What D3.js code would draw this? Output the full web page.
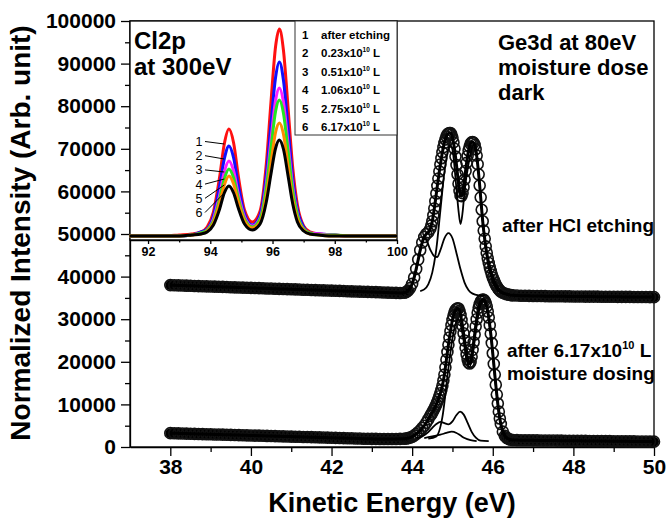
<!DOCTYPE html>
<html lang="en">
<head>
<meta charset="UTF-8">
<title>Ge3d at 80eV - moisture dose</title>
<script src="https://cdnjs.cloudflare.com/ajax/libs/d3/7.8.5/d3.min.js"></script>
<style>
  body { margin: 0; background: #fff; }
  svg { display: block; font-family: 'Liberation Sans', Arial, Helvetica, sans-serif; }
  .axis path, .axis line { stroke: #000; stroke-width: 1.3; }
  .axis text { font-weight: bold; fill: #000; }
  .main-axis text { font-size: 21px; }
  .inset-axis text { font-size: 12.5px; }
  .note { font-weight: bold; fill: #000; }
</style>
</head>
<body>
<svg id="chart" width="666" height="519"></svg>
<script>
// ---- main plot: Ge3d kinetic energy grid (eV), shared by both spectra
const energy = [
  38.0,38.1,38.2,38.3,38.4,38.5,38.6,38.7,38.8,38.9,
  39.0,39.1,39.2,39.3,39.4,39.5,39.6,39.7,39.8,39.9,
  40.0,40.1,40.2,40.3,40.4,40.5,40.6,40.7,40.8,40.9,
  41.0,41.1,41.2,41.3,41.4,41.5,41.6,41.7,41.8,41.9,
  42.0,42.1,42.2,42.3,42.4,42.5,42.6,42.7,42.8,42.9,
  43.0,43.1,43.2,43.3,43.4,43.5,43.6,43.7,
  43.80,43.85,43.90,43.95,44.00,44.05,44.10,44.15,44.20,44.25,44.30,44.35,44.40,44.45,
  44.475,44.500,44.525,44.550,44.575,44.600,44.625,44.650,44.675,44.700,
  44.725,44.750,44.775,44.800,44.825,44.850,44.875,44.900,44.925,44.950,44.975,
  45.000,45.025,45.050,45.075,45.100,45.125,45.150,45.175,45.200,45.225,
  45.250,45.275,45.300,45.325,45.350,45.375,45.400,45.425,45.450,45.475,
  45.500,45.525,45.550,45.575,45.600,45.625,45.650,45.675,45.700,45.725,
  45.750,45.775,45.800,45.825,45.850,45.875,45.900,45.925,45.950,45.975,
  46.000,46.025,46.050,46.075,46.100,46.125,46.150,46.175,46.200,
  46.25,46.30,46.35,46.40,46.45,46.50,
  46.6,46.7,46.8,46.9,
  47.0,47.1,47.2,47.3,47.4,47.5,47.6,47.7,47.8,47.9,
  48.0,48.1,48.2,48.3,48.4,48.5,48.6,48.7,48.8,48.9,
  49.0,49.1,49.2,49.3,49.4,49.5,49.6,49.7,49.8,49.9,
  50.0
];

// after HCl etching (data points, open circles)
const afterEtching = [
  38000,37970,37940,37900,37870,37840,37810,37770,37740,37710,
  37680,37640,37610,37580,37550,37510,37480,37450,37420,37380,
  37350,37320,37290,37250,37220,37190,37160,37130,37090,37060,
  37030,37000,36960,36930,36900,36870,36830,36800,36770,36740,
  36700,36670,36640,36610,36570,36540,36510,36480,36440,36410,
  36380,36350,36320,36280,36250,36220,36190,36160,
  36200,36350,36700,37300,38300,39800,41800,44000,46200,48000,49300,50000,50400,51200,
  52000,53000,54400,56000,57700,59500,61300,63000,64700,66300,
  67800,69200,70400,71400,72200,72900,73350,73600,73700,73700,73300,
  72600,71500,70000,68200,66200,64000,61800,60100,59000,58900,
  59600,61000,62800,64800,66700,68300,69600,70500,71200,71500,
  71600,71400,70900,69900,68400,66400,64000,61400,58600,55700,
  53000,50800,48900,47100,45600,44300,43200,42200,41300,40500,
  39800,39200,38600,38100,37700,37300,37000,36700,36500,
  36200,36000,35850,35750,35650,35600,
  35550,35520,35500,35480,
  35460,35440,35430,35410,35400,35390,35380,35370,35360,35350,
  35340,35330,35320,35310,35300,35300,35290,35280,35270,35260,
  35260,35250,35240,35230,35230,35220,35210,35200,35200,35190,
  35180
];

// after 6.17x10^10 L moisture dosing
const afterDosing = [
  3250,3220,3200,3170,3140,3120,3090,3060,3030,3010,
  2980,2950,2930,2900,2870,2850,2820,2790,2760,2740,
  2710,2680,2660,2630,2600,2580,2550,2520,2490,2470,
  2440,2410,2390,2360,2330,2310,2280,2250,2220,2200,
  2170,2140,2120,2090,2060,2040,2010,1980,1950,1930,
  1910,1900,1890,1880,1880,1880,1890,1910,
  1950,2000,2080,2200,2400,2700,3050,3450,3900,4450,5000,5700,6500,7300,
  7700,8100,8550,9000,9500,10000,10600,11200,11900,12600,
  13400,14400,15600,17000,18700,20500,22300,24000,25700,27200,28600,
  29800,30800,31600,32100,32400,32550,32500,31900,31000,29800,
  28400,26700,25000,23300,21800,20600,19800,19600,20000,21200,
  22800,24600,26400,28300,30000,31500,32700,33500,34100,34450,
  34600,34550,34300,33750,33000,31800,30400,28600,26600,24400,
  22000,19500,17000,14600,12300,10200,8300,6700,5400,
  3600,2600,2100,1850,1700,1650,
  1620,1600,1580,1570,
  1560,1550,1540,1530,1520,1510,1500,1490,1480,1470,
  1460,1450,1440,1430,1420,1410,1400,1390,1380,1370,
  1360,1350,1340,1330,1320,1310,1300,1290,1280,1270,
  1260
];

// fitted components [eV, intensity]
const etchBulk = [[44.2,36600],[44.3,37000],[44.4,38200],[44.5,41000],[44.6,46500],[44.7,55500],
  [44.8,64500],[44.9,70000],[44.95,70800],[45.0,69800],[45.1,60500],[45.15,55500],[45.2,52300],
  [45.25,55000],[45.3,60000],[45.4,66500],[45.5,70600],[45.55,71000],[45.6,69000],[45.7,59000],
  [45.8,48500],[45.9,42000],[46.0,38800],[46.1,37000],[46.2,36200],[46.4,35700]];
const etchSurface = [[43.8,36250],[43.9,36700],[44.0,38200],[44.1,41500],[44.2,46000],[44.28,49000],
  [44.35,48600],[44.45,46300],[44.55,44800],[44.62,44600],[44.7,46200],[44.8,49000],[44.9,50200],
  [45.0,49000],[45.1,45500],[45.2,41700],[45.3,38600],[45.4,36800],[45.5,36000],[45.65,35600],[45.8,35500]];
const doseBulk = [[44.4,1950],[44.6,2500],[44.75,7000],[44.9,18500],[45.0,25500],[45.1,29500],
  [45.15,30000],[45.25,26500],[45.35,20500],[45.42,18700],[45.5,21500],[45.6,28500],[45.7,33500],
  [45.78,34300],[45.85,32700],[45.95,26300],[46.05,16800],[46.15,8000],[46.25,3300],[46.4,1800]];
const doseSurface = [[44.1,2100],[44.25,2500],[44.4,3500],[44.5,4500],[44.6,5400],[44.7,5900],
  [44.8,5600],[44.9,5300],[45.0,6000],[45.1,7500],[45.19,8300],[45.28,7600],[45.38,5600],
  [45.48,3500],[45.58,2200],[45.7,1500],[45.9,1400]];
const doseSmall = [[44.3,2100],[44.5,2500],[44.7,2900],[44.85,3300],[44.98,3600],[45.1,3300],
  [45.2,2700],[45.3,2100],[45.45,1600],[45.6,1400]];

const xMajor = [38, 40, 42, 44, 46, 48, 50];
const xMinor = [39, 41, 43, 45, 47, 49];
const yMajor = [0, 10000, 20000, 30000, 40000, 50000, 60000, 70000, 80000, 90000, 100000];
const yMinor = [5000, 15000, 25000, 35000, 45000, 55000, 65000, 75000, 85000, 95000];

// ---- inset: Cl2p at 300eV
const cl2pEnergy = [91.4,92,92.5,93,93.4,93.7,93.9,94.1,94.3,94.45,94.6,94.75,94.9,95.1,95.35,
  95.6,95.8,95.95,96.1,96.22,96.35,96.5,96.65,96.8,97.0,97.2,97.5,98,98.5,99,99.5,100];
const cl2p1 = [4,4,4,5,6,8,13,28,63,96,111,97,64,30,18,29,76,138,194,211,190,132,72,35,14,8,6,5,4,4,4,4];
const cl2p2 = [4,4,4,4,5,8,11,24,54,81,94,82,55,26,15,25,65,116,163,178,160,112,61,30,13,7,6,5,4,4,4,4];
const cl2p3 = [4,4,4,4,5,7,10,21,45,68,79,69,46,23,14,22,56,100,140,152,138,96,53,26,11,7,6,5,4,4,4,4];
const cl2p4 = [4,4,4,4,5,7,10,19,41,61,71,62,42,21,13,21,52,92,129,140,127,89,49,25,11,7,5,5,4,4,4,4];
const cl2p5 = [4,4,4,4,5,6,9,17,37,55,64,56,38,19,12,18,44,77,108,117,106,74,41,21,10,6,5,4,4,4,4,4];
const cl2p6 = [4,4,4,4,5,6,8,15,31,47,54,47,32,16,10,16,38,66,92,100,91,64,36,18,9,6,5,4,4,4,4,4];
const cl2pColors = ['#ff1010', '#1010ff', '#ff20ff', '#22e622', '#ff8c00', '#000000'];
const doseLabels = ['after etching', '0.23x10', '0.51x10', '1.06x10', '2.75x10', '6.17x10'];
const insetMajor = [92, 94, 96, 98, 100];
const insetMinor = [93, 95, 97, 99];

// -------------------------------------------------------------
const svg = d3.select('#chart');
svg.append('rect').attr('width', 666).attr('height', 519).attr('fill', '#fff');

const x = d3.scaleLinear().domain([37, 50]).range([130, 654]);
const y = d3.scaleLinear().domain([0, 100000]).range([447, 21]);

function pair(xs, ys) {
  if (xs.length !== ys.length) throw new Error('length mismatch ' + xs.length + ' vs ' + ys.length);
  return xs.map((e, i) => [e, ys[i]]);
}
const lineOf = (sx, sy) => d3.line().x(d => sx(d[0])).y(d => sy(d[1])).curve(d3.curveMonotoneX);

// frame
svg.append('rect').attr('x', 130).attr('y', 21).attr('width', 524).attr('height', 426)
  .attr('fill', 'none').attr('stroke', '#000').attr('stroke-width', 1.3);

// axes
svg.append('g').attr('class', 'axis main-axis').attr('transform', 'translate(0,447)')
  .call(d3.axisBottom(x).tickValues(xMajor).tickSize(9).tickSizeOuter(0).tickPadding(3).tickFormat(d3.format('d')));
svg.append('g').attr('class', 'axis').attr('transform', 'translate(0,447)')
  .call(d3.axisBottom(x).tickValues(xMinor).tickSize(5).tickFormat(''))
  .select('.domain').remove();
svg.append('g').attr('class', 'axis main-axis').attr('transform', 'translate(130,0)')
  .call(d3.axisLeft(y).tickValues(yMajor).tickSize(9).tickSizeOuter(0).tickPadding(5).tickFormat(d3.format('d')));
svg.append('g').attr('class', 'axis').attr('transform', 'translate(130,0)')
  .call(d3.axisLeft(y).tickValues(yMinor).tickSize(5).tickFormat(''))
  .select('.domain').remove();

svg.append('text').attr('class', 'note').attr('x', 392).attr('y', 512)
  .attr('text-anchor', 'middle').attr('font-size', 27).text('Kinetic Energy (eV)');
svg.append('text').attr('class', 'note').attr('transform', 'translate(30,233) rotate(-90)')
  .attr('text-anchor', 'middle').attr('font-size', 28).text('Normalized Intensity (Arb. unit)');

// spectra
const etchPts = pair(energy, afterEtching);
const dosePts = pair(energy, afterDosing);
const flat = d => d[0] <= 43.9 || d[0] >= 46.3;
[etchPts, dosePts].forEach(pts => {
  // flat stretches: circles packed so densely they read as a solid band
  [pts.filter(d => d[0] <= 43.9), pts.filter(d => d[0] >= 46.3)].forEach(seg => {
    svg.append('path').datum(seg).attr('d', lineOf(x, y))
      .attr('fill', 'none').attr('stroke', '#000').attr('stroke-width', 10)
      .attr('stroke-linecap', 'round');
  });
  svg.append('g').selectAll('circle').data(pts).join('circle')
    .attr('cx', d => x(d[0])).attr('cy', d => y(d[1])).attr('r', 5.5)
    .attr('fill', 'none').attr('stroke', '#111').attr('stroke-width', 1.6);
});
[etchPts, dosePts].forEach(pts => {
  svg.append('path').datum(pts).attr('d', lineOf(x, y))
    .attr('fill', 'none').attr('stroke', '#000').attr('stroke-width', 3);
});
[etchBulk, etchSurface, doseBulk, doseSurface, doseSmall].forEach(c => {
  svg.append('path').datum(c).attr('d', lineOf(x, y))
    .attr('fill', 'none').attr('stroke', '#000').attr('stroke-width', 1.8);
});

// annotations
const note = (tx, ty, size, str) => svg.append('text').attr('class', 'note')
  .attr('x', tx).attr('y', ty).attr('font-size', size).text(str);
note(498, 50, 22, 'Ge3d at 80eV');
note(498, 75, 22, 'moisture dose');
note(498, 100, 22, 'dark');
note(502, 232, 19, 'after HCl etching');
const t = note(507, 357, 19, 'after 6.17x10');
t.append('tspan').attr('font-size', 11).attr('dy', -8).text('10');
t.append('tspan').attr('font-size', 19).attr('dy', 8).text(' L');
note(507, 380, 19, 'moisture dosing');

// ---- inset
const xi = d3.scaleLinear().domain([91.42, 100]).range([130, 397]);
const yi = d3.scaleLinear().domain([0, 219]).range([240, 21]);
const inset = svg.append('g');
inset.append('rect').attr('x', 130).attr('y', 21).attr('width', 267).attr('height', 219)
  .attr('fill', '#fff').attr('stroke', '#000').attr('stroke-width', 1.3);
inset.append('g').attr('class', 'axis inset-axis').attr('transform', 'translate(0,240)')
  .call(d3.axisBottom(xi).tickValues(insetMajor).tickSize(4).tickSizeOuter(0).tickPadding(3).tickFormat(d3.format('d')));
inset.append('g').attr('class', 'axis').attr('transform', 'translate(0,240)')
  .call(d3.axisBottom(xi).tickValues(insetMinor).tickSize(2.5).tickFormat(''))
  .select('.domain').remove();

const cl2pSeries = [cl2p1, cl2p2, cl2p3, cl2p4, cl2p5, cl2p6];
cl2pSeries.forEach((s, i) => {
  inset.append('path').datum(pair(cl2pEnergy, s)).attr('d', lineOf(xi, yi))
    .attr('fill', 'none').attr('stroke', cl2pColors[i]).attr('stroke-width', 3)
    .attr('stroke-linejoin', 'round');
});

// numbered leaders pointing at the 94.6 eV peak flank
const flankIdx = cl2pEnergy.indexOf(94.45);
cl2pSeries.forEach((s, i) => {
  const ly = 146 + i * 14.2;
  inset.append('line').attr('x1', 205).attr('y1', ly - 4.5)
    .attr('x2', xi(94.45)).attr('y2', yi(s[flankIdx]))
    .attr('stroke', '#000').attr('stroke-width', 1);
  inset.append('text').attr('x', 199).attr('y', ly).attr('text-anchor', 'middle')
    .attr('font-size', 12.5).text(i + 1);
});

inset.append('text').attr('class', 'note').attr('x', 134).attr('y', 49).attr('font-size', 24).text('Cl2p');
inset.append('text').attr('class', 'note').attr('x', 134).attr('y', 75).attr('font-size', 24).text('at 300eV');

// legend
inset.append('rect').attr('x', 295).attr('y', 21).attr('width', 102).attr('height', 114)
  .attr('fill', '#fff').attr('stroke', '#333').attr('stroke-width', 1);
doseLabels.forEach((lab, i) => {
  const ly = 39 + i * 18.4;
  inset.append('text').attr('class', 'note').attr('x', 302).attr('y', ly).attr('font-size', 11.5).text(i + 1);
  const tt = inset.append('text').attr('class', 'note').attr('x', 321).attr('y', ly).attr('font-size', 11.5).text(lab);
  if (i > 0) {
    tt.append('tspan').attr('font-size', 6.5).attr('dy', -5).text('10');
    tt.append('tspan').attr('font-size', 11.5).attr('dy', 5).text(' L');
  }
});
</script>
</body>
</html>
